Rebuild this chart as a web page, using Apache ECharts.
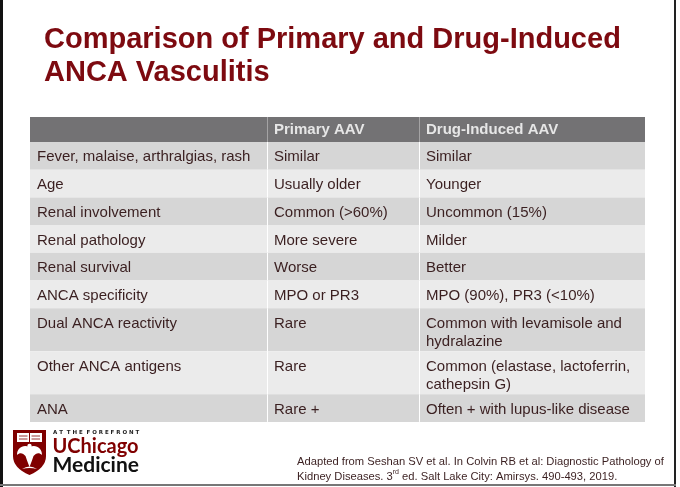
<!DOCTYPE html>
<html><head><meta charset="utf-8">
<script src="https://cdn.jsdelivr.net/npm/echarts@6/dist/echarts.min.js"></script>
<style>html,body{margin:0;padding:0;background:#fff}#c{width:680px;height:487px}</style>
</head><body><div id="c"></div>
<script>
// ---- data ----
const titleLines = ['Comparison of Primary and Drug-Induced', 'ANCA Vasculitis'];
const columnHeaders = ['', 'Primary AAV', 'Drug-Induced AAV'];
const features = ['Fever, malaise, arthralgias, rash', 'Age', 'Renal involvement', 'Renal pathology', 'Renal survival', 'ANCA specificity', 'Dual ANCA reactivity', 'Other ANCA antigens', 'ANA'];
const primaryAAV = ['Similar', 'Usually older', 'Common (>60%)', 'More severe', 'Worse', 'MPO or PR3', 'Rare', 'Rare', 'Rare +'];
const drugInducedAAV = ['Similar', 'Younger', 'Uncommon (15%)', 'Milder', 'Better', 'MPO (90%), PR3 (<10%)', 'Common with levamisole and\nhydralazine', 'Common (elastase, lactoferrin,\ncathepsin G)', 'Often + with lupus-like disease'];
const citationLines = ['Adapted from Seshan SV et al. In Colvin RB et al: Diagnostic Pathology of', 'Kidney Diseases. 3^rd^ ed. Salt Lake City: Amirsys. 490-493, 2019.'];
const logoLines = ['A T  T H E  F O R E F R O N T', 'UChicago', 'Medicine'];

// ---- layout ----
const COL_W = [237, 152, 226];
const TABLE_W = COL_W.reduce((a, b) => a + b, 0);
const HEADER_H = 25, ROW_H = 27.7, EXTRA_LINE = 15.3;
const rows = [columnHeaders].concat(features.map((f, i) => [f, primaryAAV[i], drugInducedAAV[i]]));
const rowH = rows.map((r, i) => i === 0 ? HEADER_H : ROW_H + (Math.max(...r.map(s => s.split('\n').length)) - 1) * EXTRA_LINE);
const rowTop = []; let acc = 0; rowH.forEach(h => { rowTop.push(acc); acc += h; });
const TABLE_H = acc;
const colLeft = [0]; COL_W.forEach((w, i) => { if (i < COL_W.length - 1) colLeft.push(colLeft[i] + w); });
const cells = [];
rows.forEach((r, ri) => r.forEach((t, ci) => cells.push([ci, ri])));

const FONT = '"Liberation Sans", Arial, Helvetica, sans-serif';
const TEXT_COL = '#3a1f20';
const RED = '#7d0a10';

function renderLogo(params, api) {
  return { type: 'group', x: 13, y: 430, children: [
    { type: 'path', shape: { pathData: 'M0,0 L33,0 L33,26 Q33,38 16.5,45 Q0,38 0,26 Z' }, style: { fill: '#800000' } },
    { type: 'rect', shape: { x: 4, y: 3, width: 25, height: 9 }, style: { fill: '#ffffff' } },
    { type: 'line', shape: { x1: 16.5, y1: 3, x2: 16.5, y2: 12 }, style: { stroke: '#800000', lineWidth: 1 } },
    { type: 'line', shape: { x1: 6, y1: 6, x2: 14.5, y2: 6 }, style: { stroke: '#800000', lineWidth: 0.8 } },
    { type: 'line', shape: { x1: 18.5, y1: 6, x2: 27, y2: 6 }, style: { stroke: '#800000', lineWidth: 0.8 } },
    { type: 'line', shape: { x1: 6, y1: 9, x2: 14.5, y2: 9 }, style: { stroke: '#800000', lineWidth: 0.8 } },
    { type: 'line', shape: { x1: 18.5, y1: 9, x2: 27, y2: 9 }, style: { stroke: '#800000', lineWidth: 0.8 } },
    { type: 'path', shape: { pathData: 'M16.5,17 C10,14 4,18 4,25 C7,22 10,23 12.5,26 C13.5,29 14.5,32 16.5,37 C18.5,32 19.5,29 20.5,26 C23,23 26,22 29,25 C29,18 23,14 16.5,17 Z' }, style: { fill: '#ffffff' } },
    { type: 'circle', shape: { cx: 16.5, cy: 16, r: 2.2 }, style: { fill: '#ffffff' } },
    { type: 'path', shape: { pathData: 'M9,39 Q16.5,34 24,39 Q16.5,37 9,39 Z' }, style: { fill: '#ffffff' } }
  ] };
}

const chart = echarts.init(document.getElementById('c'), null, { renderer: 'canvas' });
chart.setOption({
  animation: false,
  backgroundColor: '#ffffff',
  grid: { left: 30, top: 117, width: TABLE_W, height: TABLE_H, containLabel: false },
  xAxis: { type: 'value', min: 0, max: TABLE_W, show: false },
  yAxis: { type: 'value', min: 0, max: TABLE_H, inverse: true, show: false },
  series: [{
    type: 'custom',
    silent: true,
    clip: false,
    data: cells,
    renderItem: function (params, api) {
      const ci = api.value(0), ri = api.value(1);
      const p0 = api.coord([colLeft[ci], rowTop[ri]]);
      const p1 = api.coord([colLeft[ci] + COL_W[ci], rowTop[ri] + rowH[ri]]);
      const header = ri === 0;
      const fill = header ? '#737274' : (ri % 2 === 1 ? '#d6d6d6' : '#ebebeb');
      const children = [
        { type: 'rect', shape: { x: p0[0], y: p0[1], width: p1[0] - p0[0], height: p1[1] - p0[1] }, style: { fill: fill } }
      ];
      if (ci > 0) {
        children.push({ type: 'line', shape: { x1: p0[0] + 0.5, y1: p0[1], x2: p0[0] + 0.5, y2: p1[1] }, style: { stroke: header ? 'rgba(255,255,255,0.35)' : '#ffffff', lineWidth: 1 } });
      }
      children.push({
        type: 'text', x: p0[0] + 7, y: p0[1] + (header ? 4 : 6.3),
        style: {
          text: rows[ri][ci], fill: header ? '#e6e6e6' : TEXT_COL,
          font: (header ? 'bold ' : '') + '15px ' + FONT,
          lineHeight: 18, align: 'left', verticalAlign: 'top'
        }
      });
      return { type: 'group', children: children };
    }
  }, {
    type: 'custom',
    coordinateSystem: 'none',
    silent: true,
    data: [0],
    renderItem: renderLogo
  }],
  graphic: [
    // slide frame
    { type: 'rect', shape: { x: 0, y: 0, width: 3, height: 487 }, style: { fill: '#111' } },
    { type: 'rect', shape: { x: 674, y: 0, width: 2, height: 487 }, style: { fill: '#222' } },
    { type: 'rect', shape: { x: 0, y: 484, width: 676, height: 2 }, style: { fill: '#777' } },
    // title
    { type: 'text', x: 44, y: 23, style: { text: titleLines.join('\n'), fill: RED, font: 'bold 29px ' + FONT, lineHeight: 33, verticalAlign: 'top' } },
    // citation
    { type: 'text', x: 297, y: 454, style: {
        text: citationLines.map(l => '{n|' + l.replace(/\^(.*?)\^/g, '}{s|$1}{n|') + '}').join('\n'),
        verticalAlign: 'top', lineHeight: 15,
        rich: {
          n: { fontSize: 11.2, fontFamily: FONT, fill: TEXT_COL, lineHeight: 15 },
          s: { fontSize: 7, fontFamily: FONT, fill: TEXT_COL, verticalAlign: 'top', lineHeight: 15 }
        }
      } },
    // logo text
    { type: 'text', x: 53, y: 429.5, style: { text: logoLines[0], fill: '#222', font: 'bold 5.5px "DejaVu Sans", sans-serif', verticalAlign: 'top' } },
    { type: 'text', x: 52.5, y: 436.5, style: { text: logoLines[1], fill: '#800000', font: 'bold 20px Lato, "Open Sans", sans-serif', verticalAlign: 'top' } },
    { type: 'text', x: 52.5, y: 455, style: { text: logoLines[2], fill: '#111', font: 'bold 21px Lato, "Open Sans", sans-serif', verticalAlign: 'top' } },
    // mouse cursor
    { type: 'polygon', x: 160, y: 379, shape: { points: [[0, 0], [0, 8], [2, 6.3], [3.4, 9.2], [4.6, 8.7], [3.3, 5.8], [5.8, 5.8]] }, style: { fill: '#fff', stroke: '#777', lineWidth: 0.7 } }
  ]
});
</script></body></html>
